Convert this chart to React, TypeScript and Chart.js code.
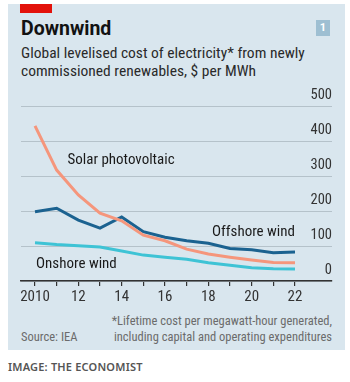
import React, { useEffect, useRef } from "react";
import { Chart, registerables } from "chart.js";

Chart.register(...registerables);

const years = [2010, 2011, 2012, 2013, 2014, 2015, 2016, 2017, 2018, 2019, 2020, 2021, 2022];
const solar = [443, 317, 246, 194, 172, 131, 115, 91, 77, 68, 60, 53, 52];
const offshore = [198, 208, 174, 151, 183, 141, 125, 115, 108, 93, 89, 81, 83];
const onshore = [109, 104, 101, 97, 86, 74, 68, 62, 52, 45, 38, 35, 34];
const yTicks = [0, 100, 200, 300, 400, 500];

const FONT = '"Roboto Condensed", "Noto Sans", sans-serif';

const overlay = {
  id: "overlay",
  afterDraw(chart: any) {
    const { ctx, scales } = chart;
    const x = scales.x;
    const y = scales.y;
    ctx.save();
    ctx.font = `14.5px ${FONT}`;
    ctx.fillStyle = "#333";
    ctx.textAlign = "right";
    ctx.textBaseline = "bottom";
    yTicks.forEach((v) => {
      ctx.fillText(String(v), chart.chartArea.right, y.getPixelForValue(v) - 3);
    });
    ctx.font = `15px ${FONT}`;
    ctx.fillStyle = "#1a1a1a";
    ctx.textBaseline = "middle";
    ctx.textAlign = "left";
    ctx.fillText("Solar photovoltaic", x.getPixelForValue(2011.5), y.getPixelForValue(345));
    ctx.fillText("Onshore wind", x.getPixelForValue(2010.05), y.getPixelForValue(49));
    ctx.textAlign = "right";
    ctx.fillText("Offshore wind", x.getPixelForValue(2022), y.getPixelForValue(140));
    ctx.restore();
  },
};

function ChartBox() {
  const ref = useRef<HTMLCanvasElement>(null);
  useEffect(() => {
    if (!ref.current) return;
    const mk = (data: number[], color: string) => ({
      data: years.map((yr, i) => ({ x: yr, y: data[i] })),
      borderColor: color,
      borderWidth: 3,
      pointRadius: 0,
      tension: 0,
      fill: false,
    });
    const chart = new Chart(ref.current, {
      type: "line",
      data: {
        datasets: [
          mk(onshore, "#3ec3d5"),
          mk(solar, "#f5967c"),
          mk(offshore, "#1b6290"),
        ],
      },
      options: {
        animation: false,
        responsive: false,
        maintainAspectRatio: false,
        layout: { padding: { left: 21, right: 18, top: 106, bottom: 5 } },
        plugins: { legend: { display: false }, tooltip: { enabled: false } },
        scales: {
          x: {
            type: "linear",
            min: 2009.354,
            max: 2023.708,
            afterFit: (s: any) => {
              s.height = 24;
            },
            afterBuildTicks: (s: any) => {
              s.ticks = years.map((v) => ({ value: v }));
            },
            grid: {
              drawOnChartArea: false,
              drawTicks: true,
              tickLength: 5,
              color: "#333",
              lineWidth: 1.2,
            },
            border: { display: true, color: "#333", width: 1.5 },
            ticks: {
              autoSkip: false,
              maxRotation: 0,
              padding: 2,
              color: "#333",
              font: { family: FONT, size: 15 },
              callback: (v: any) => {
                const n = Number(v);
                if (n % 2 !== 0) return "";
                return n === 2010 ? "2010" : String(n - 2000);
              },
            },
          },
          y: {
            min: 0,
            max: 500,
            afterBuildTicks: (s: any) => {
              s.ticks = yTicks.map((v) => ({ value: v }));
            },
            grid: { drawTicks: false, color: "#b5c2ca", lineWidth: 1 },
            border: { display: false },
            ticks: { display: false },
          },
        },
      },
      plugins: [overlay],
    });
    return () => chart.destroy();
  }, []);
  return (
    <canvas
      ref={ref}
      width={350}
      height={310}
      style={{ position: "absolute", left: 0, top: 0, width: 350, height: 310 }}
    />
  );
}

export default function App() {
  return (
    <div
      style={{
        position: "absolute",
        left: 0,
        top: 0,
        width: 350,
        height: 382,
        background: "#fff",
        fontFamily: FONT,
        overflow: "hidden",
      }}
    >
      <div style={{ position: "absolute", left: 8, top: 4, width: 337, height: 346, background: "#d9e6ee" }} />
      <div style={{ position: "absolute", left: 20, top: 4, width: 32, height: 9, background: "#e3120b" }} />
      <div
        style={{
          position: "absolute",
          left: 316,
          top: 20,
          width: 14,
          height: 16,
          background: "#9ebfd2",
          color: "#fff",
          fontFamily: "Roboto, sans-serif",
          fontWeight: 700,
          fontSize: 11,
          lineHeight: "16px",
          textAlign: "center",
        }}
      >
        1
      </div>
      <div
        style={{
          position: "absolute",
          left: 21,
          top: 17,
          fontFamily: "Roboto, sans-serif",
          fontSize: 19.5,
          fontWeight: 700,
          color: "#121212",
          lineHeight: "24px",
        }}
      >
        Downwind
      </div>
      <div
        style={{
          position: "absolute",
          left: 21,
          top: 44,
          fontSize: 15.5,
          color: "#2a2a2a",
          lineHeight: "18px",
          whiteSpace: "nowrap",
        }}
      >
        Global levelised cost of electricity* from newly
        <br />
        commissioned renewables, $ per MWh
      </div>
      <ChartBox />
      <div
        style={{
          position: "absolute",
          right: 18,
          top: 313,
          fontSize: 12.5,
          color: "#6b6b6b",
          lineHeight: "16px",
          textAlign: "right",
          whiteSpace: "nowrap",
        }}
      >
        *Lifetime cost per megawatt-hour generated,
        <br />
        including capital and operating expenditures
      </div>
      <div
        style={{
          position: "absolute",
          left: 21,
          top: 329,
          fontSize: 12.5,
          color: "#6b6b6b",
          lineHeight: "16px",
        }}
      >
        Source: IEA
      </div>
      <div
        style={{
          position: "absolute",
          left: 8,
          top: 360,
          fontFamily: '"Noto Sans", sans-serif',
          fontSize: 11,
          fontWeight: 600,
          color: "#555",
          letterSpacing: 0.2,
          lineHeight: "14px",
        }}
      >
        IMAGE: THE ECONOMIST
      </div>
    </div>
  );
}
